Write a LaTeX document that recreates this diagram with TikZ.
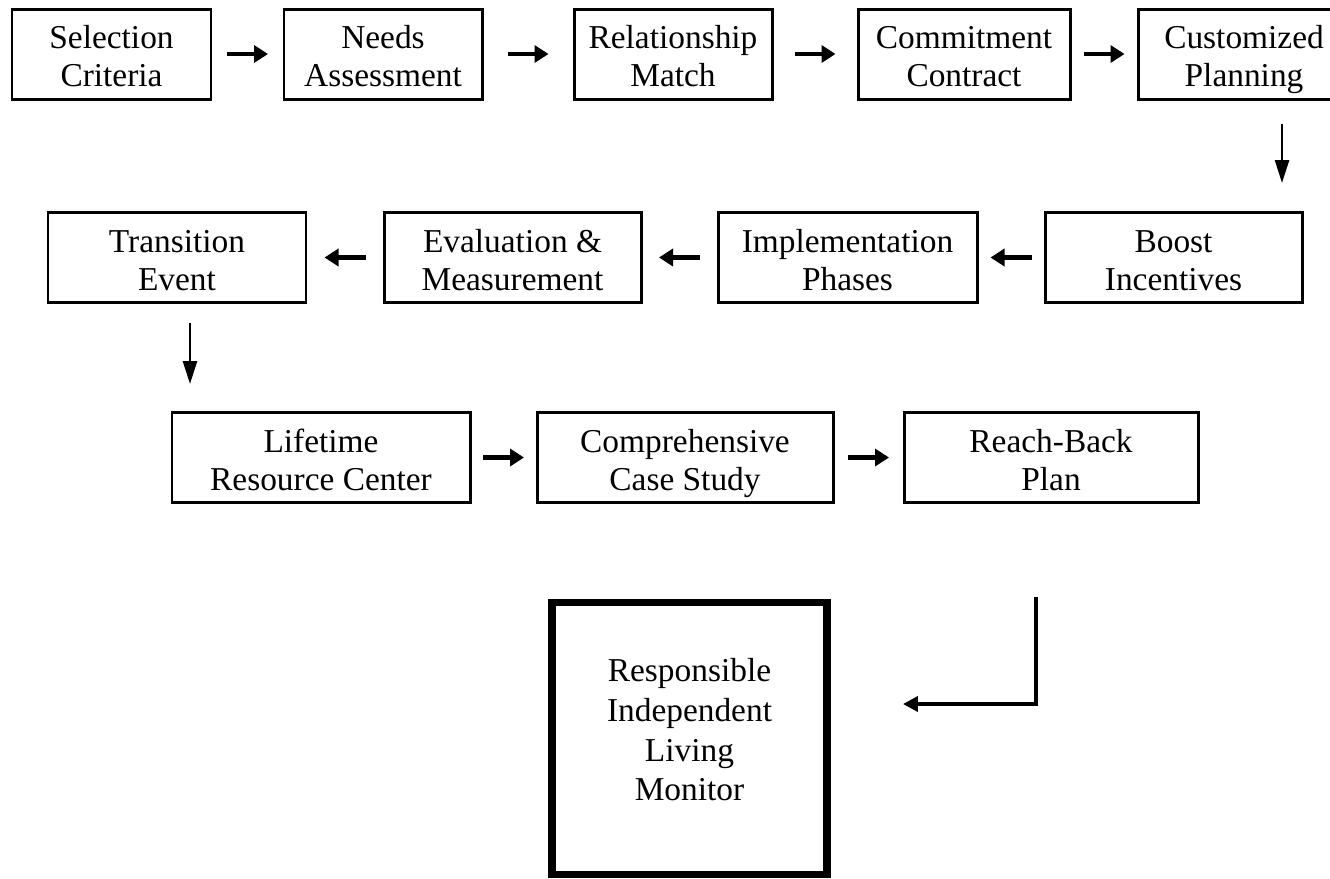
\documentclass[tikz,border=0pt]{standalone}
\usepackage{fontspec}
\setmainfont{Liberation Serif}
\usetikzlibrary{arrows.meta}
\newcommand{\stage}[5]{\node[stage,minimum width={#4*0.2mm}] (#1) at (#2,#3) {\rule{0pt}{22pt}#5\strut};}
\newcommand{\flowlink}[3]{\draw[flow,shorten <=#3,shorten >=#3] (#1) -- (#2);}

\begin{document}
\begin{tikzpicture}[x=0.2mm,y=-0.2mm,
	stage/.style={draw,line width=1.7pt,minimum height=18mm,inner sep=0pt,align=center,font=\fontsize{19pt}{21.6pt}\selectfont},
	flow/.style={line width=2.4pt,-{Triangle[length=2.8mm,width=3.4mm]}},
	drop/.style={line width=1.5pt,-{Triangle[length=4.6mm,width=2.8mm]}},
	elbow/.style={line width=2.5pt,-{Triangle[length=3mm,width=3mm]}}]
	\useasboundingbox (0,0) rectangle (1330,878);
	% first row
	\stage{sel}{111.5}{54}{199}{Selection\\Criteria}
	\stage{needs}{383}{54}{198}{Needs\\Assessment}
	\stage{rel}{673}{54}{198}{Relationship\\Match}
	\stage{commit}{964}{54}{212}{Commitment\\Contract}
	\stage{custom}{1244}{54}{212}{Customized\\Planning}
	\flowlink{sel}{needs}{2.9mm} \flowlink{needs}{rel}{4.8mm}
	\flowlink{rel}{commit}{4.2mm} \flowlink{commit}{custom}{2.4mm}
	% second row
	\stage{trans}{177}{257.5}{258}{Transition\\Event}
	\stage{eval}{512.5}{257.5}{257}{Evaluation \&\\Measurement}
	\stage{impl}{847.5}{257.5}{259}{Implementation\\Phases}
	\stage{boost}{1173.5}{257.5}{257}{Boost\\Incentives}
	\flowlink{boost}{impl}{2.4mm} \flowlink{impl}{eval}{3.3mm}
	\flowlink{eval}{trans}{3.4mm}
	% third row
	\stage{life}{321}{457.5}{298}{Lifetime\\Resource Center}
	\stage{comp}{685}{457.5}{296}{Comprehensive\\Case Study}
	\stage{reach}{1051}{457.5}{294}{Reach-Back\\Plan}
	\flowlink{life}{comp}{2.3mm} \flowlink{comp}{reach}{2.7mm}
	% turns between the rows
	\coordinate (d1) at (1282,0);
	\coordinate (d2) at (190,0);
	\draw[drop,shorten <=4.6mm,shorten >=5.6mm] (custom.south -| d1) -- (boost.north -| d1);
	\draw[drop,shorten <=3.8mm,shorten >=5.4mm] (trans.south -| d2) -- (life.north -| d2);
	% last step
	\node[draw,line width=4.5pt,minimum width=55mm,minimum height=54.4mm,inner sep=0pt,align=center,
		font=\fontsize{19pt}{22.7pt}\selectfont] (monitor) at (689.5,738.5) {Responsible\\Independent\\Living\\Monitor\rule[-3.6mm]{0pt}{0pt}};
	\coordinate (etop) at (1036,597);
	\coordinate (ebend) at (1036,704);
	\draw[elbow,shorten >=14.4mm] (etop) -- (ebend) -- (monitor.east |- ebend);
\end{tikzpicture}
\end{document}
